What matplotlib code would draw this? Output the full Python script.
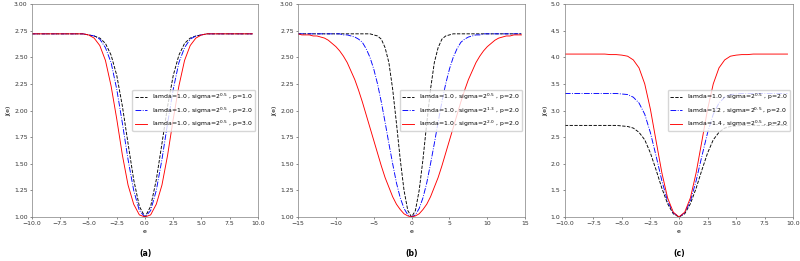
import numpy as np
import matplotlib
matplotlib.use("Agg")
import matplotlib.pyplot as plt

# sample grids
e_ac = np.arange(-10.0, 10.0, 0.5)
e_b = np.arange(-15.0, 15.0, 0.5)

# panel (a): lamda=1.0, sigma=2^0.5, p=1,2,3
a_p1 = [2.72, 2.72, 2.72, 2.72, 2.72, 2.72, 2.72, 2.72, 2.72, 2.72,
        2.71, 2.70, 2.68, 2.63, 2.52, 2.33, 2.04, 1.69, 1.35, 1.10,
        1.00,
        1.10, 1.35, 1.69, 2.04, 2.33, 2.52, 2.63, 2.68, 2.70, 2.71,
        2.72, 2.72, 2.72, 2.72, 2.72, 2.72, 2.72, 2.72, 2.72]
a_p2 = [2.72, 2.72, 2.72, 2.72, 2.72, 2.72, 2.72, 2.72, 2.72, 2.72,
        2.71, 2.70, 2.67, 2.59, 2.45, 2.20, 1.88, 1.54, 1.25, 1.06,
        1.00,
        1.06, 1.25, 1.54, 1.88, 2.20, 2.45, 2.59, 2.67, 2.70, 2.71,
        2.72, 2.72, 2.72, 2.72, 2.72, 2.72, 2.72, 2.72, 2.72]
a_p3 = [2.72, 2.72, 2.72, 2.72, 2.72, 2.72, 2.72, 2.72, 2.72, 2.72,
        2.71, 2.68, 2.61, 2.47, 2.23, 1.92, 1.58, 1.30, 1.12, 1.02,
        1.00,
        1.02, 1.12, 1.30, 1.58, 1.92, 2.23, 2.47, 2.61, 2.68, 2.71,
        2.72, 2.72, 2.72, 2.72, 2.72, 2.72, 2.72, 2.72, 2.72]

# panel (b): lamda=1.0, p=2, sigma=2^0.5, 2^1.3, 2^2.0
b_s05 = [2.72, 2.72, 2.72, 2.72, 2.72, 2.72, 2.72, 2.72, 2.72, 2.72,
         2.72, 2.72, 2.72, 2.72, 2.72, 2.72, 2.72, 2.72, 2.72, 2.72,
         2.71, 2.70, 2.67, 2.59, 2.45, 2.20, 1.88, 1.54, 1.25, 1.06,
         1.00,
         1.06, 1.25, 1.54, 1.88, 2.20, 2.45, 2.59, 2.67, 2.70, 2.71,
         2.72, 2.72, 2.72, 2.72, 2.72, 2.72, 2.72, 2.72, 2.72, 2.72,
         2.72, 2.72, 2.72, 2.72, 2.72, 2.72, 2.72, 2.72, 2.72]
b_s13 = [2.72, 2.72, 2.72, 2.72, 2.72, 2.72, 2.72, 2.72, 2.72, 2.72,
         2.72, 2.72, 2.71, 2.71, 2.70, 2.69, 2.67, 2.64, 2.58, 2.50,
         2.39, 2.25, 2.08, 1.89, 1.69, 1.50, 1.32, 1.18, 1.08, 1.02,
         1.00,
         1.02, 1.08, 1.18, 1.32, 1.50, 1.69, 1.89, 2.08, 2.25, 2.39,
         2.50, 2.58, 2.64, 2.67, 2.69, 2.70, 2.71, 2.71, 2.72, 2.72,
         2.72, 2.72, 2.72, 2.72, 2.72, 2.72, 2.72, 2.72, 2.72]
b_s20 = [2.72, 2.71, 2.71, 2.71, 2.70, 2.70, 2.69, 2.68, 2.66, 2.63,
         2.60, 2.56, 2.51, 2.45, 2.37, 2.29, 2.19, 2.08, 1.96, 1.84,
         1.72, 1.60, 1.48, 1.37, 1.28, 1.19, 1.12, 1.07, 1.03, 1.01,
         1.00,
         1.01, 1.03, 1.07, 1.12, 1.19, 1.28, 1.37, 1.48, 1.60, 1.72,
         1.84, 1.96, 2.08, 2.19, 2.29, 2.37, 2.45, 2.51, 2.56, 2.60,
         2.63, 2.66, 2.68, 2.69, 2.70, 2.70, 2.71, 2.71, 2.71]

# panel (c): sigma=2^0.5, p=2, lamda=1.0, 1.2, 1.4
c_l10 = [2.72, 2.72, 2.72, 2.72, 2.72, 2.72, 2.72, 2.72, 2.72, 2.72,
         2.71, 2.70, 2.67, 2.59, 2.45, 2.20, 1.88, 1.54, 1.25, 1.06,
         1.00,
         1.06, 1.25, 1.54, 1.88, 2.20, 2.45, 2.59, 2.67, 2.70, 2.71,
         2.72, 2.72, 2.72, 2.72, 2.72, 2.72, 2.72, 2.72, 2.72]
c_l12 = [3.32, 3.32, 3.32, 3.32, 3.32, 3.32, 3.32, 3.32, 3.32, 3.32,
         3.31, 3.30, 3.25, 3.14, 2.93, 2.58, 2.14, 1.68, 1.30, 1.08,
         1.00,
         1.08, 1.30, 1.68, 2.14, 2.58, 2.93, 3.14, 3.25, 3.30, 3.31,
         3.32, 3.32, 3.32, 3.32, 3.32, 3.32, 3.32, 3.32, 3.32]
c_l14 = [4.06, 4.06, 4.06, 4.06, 4.06, 4.06, 4.06, 4.06, 4.05, 4.05,
         4.04, 4.02, 3.95, 3.80, 3.50, 3.02, 2.42, 1.83, 1.36, 1.09,
         1.00,
         1.09, 1.36, 1.83, 2.42, 3.02, 3.50, 3.80, 3.95, 4.02, 4.04,
         4.05, 4.05, 4.06, 4.06, 4.06, 4.06, 4.06, 4.06, 4.06]

labels_a = [r"lamda=1.0 , sigma=$2^{0.5}$ , p=1.0",
            r"lamda=1.0 , sigma=$2^{0.5}$ , p=2.0",
            r"lamda=1.0 , sigma=$2^{0.5}$ , p=3.0"]
labels_b = [r"lamda=1.0 , sigma=$2^{0.5}$ , p=2.0",
            r"lamda=1.0 , sigma=$2^{1.3}$ , p=2.0",
            r"lamda=1.0 , sigma=$2^{2.0}$ , p=2.0"]
labels_c = [r"lamda=1.0 , sigma=$2^{0.5}$ , p=2.0",
            r"lamda=1.2 , sigma=$2^{0.5}$ , p=2.0",
            r"lamda=1.4 , sigma=$2^{0.5}$ , p=2.0"]
panel_tags = ["(a)", "(b)", "(c)"]

FS = 4.4
LW = 0.65
plt.rcParams.update({
    "font.size": FS,
    "axes.linewidth": 0.5,
    "xtick.major.size": 1.6, "ytick.major.size": 1.6,
    "xtick.major.width": 0.4, "ytick.major.width": 0.4,
    "xtick.major.pad": 1.5, "ytick.major.pad": 1.5,
    "axes.labelpad": 1.7,
    "mathtext.fontset": "dejavusans",
})

fig = plt.figure(figsize=(8.0, 2.61), dpi=100)
pos = [(0.040, 0.1686, 0.2825, 0.816),
       (0.3725, 0.1686, 0.284, 0.816),
       (0.706, 0.1686, 0.2855, 0.816)]
axs = [fig.add_axes(p) for p in pos]

datasets = [
    (axs[0], e_ac, [a_p1, a_p2, a_p3], labels_a, (-10, 10), (1.0, 3.0)),
    (axs[1], e_b, [b_s05, b_s13, b_s20], labels_b, (-15, 15), (1.0, 3.0)),
    (axs[2], e_ac, [c_l10, c_l12, c_l14], labels_c, (-10, 10), (1.0, 5.0)),
]
styles = [dict(color="k", ls="--"), dict(color="b", ls="-."), dict(color="r", ls="-")]

for (ax, x, ys, labs, xl, yl), tag in zip(datasets, panel_tags):
    for y, lab, st in zip(ys, labs, styles):
        ax.plot(x, y, lw=LW, label=lab, **st)
    ax.set_xlim(*xl)
    ax.set_ylim(*yl)
    ax.set_xlabel("e", fontsize=FS)
    ax.set_ylabel("J(e)", fontsize=FS)
    for sp in ax.spines.values():
        sp.set_color("0.5")
    ax.tick_params(colors="0.2", labelsize=FS)
    ax.legend(loc="center right", fontsize=FS, handlelength=2.0,
              borderpad=0.4, labelspacing=0.5, framealpha=0.8)
    bb = ax.get_position()
    fig.text(bb.x0 + bb.width / 2, 0.012, tag, ha="center", va="bottom",
             fontsize=5.6, fontweight="bold")

fig.savefig("out.png", dpi=100)
